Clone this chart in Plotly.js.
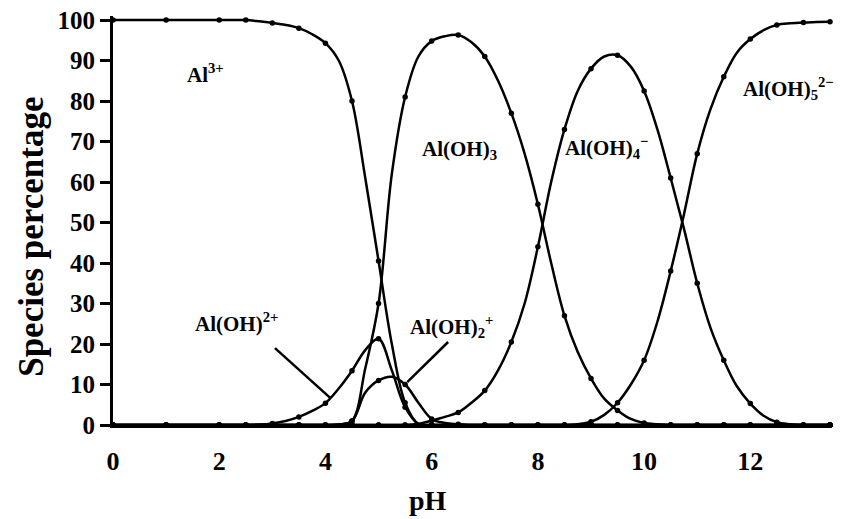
<!DOCTYPE html>
<html>
<head>
<meta charset="utf-8">
<script src="https://cdn.plot.ly/plotly-3.0.1.min.js"></script>
<style>html,body{margin:0;padding:0;background:#fff;}#chart{width:843px;height:519px;}</style>
</head>
<body>
<div id="chart"></div>
<script>
// pH grid (x values)
const pH = [0,0.25,0.5,0.75,1,1.25,1.5,1.75,2,2.25,2.5,2.75,3,3.25,3.5,3.75,4,4.25,4.5,4.75,5,5.25,5.5,5.75,6,6.25,6.5,6.75,7,7.25,7.5,7.75,8,8.25,8.5,8.75,9,9.25,9.5,9.75,10,10.25,10.5,10.75,11,11.25,11.5,11.75,12,12.25,12.5,12.75,13,13.25,13.5];

// Species percentages
const al3 = [100,100,100,100,100,100,100,100,100,100,100,99.7,99.3,98.8,98,96.5,94.3,90,80,61,40.5,20,5.5,0.2,0,0,0,0,0,0,0,0,0,0,0,0,0,0,0,0,0,0,0,0,0,0,0,0,0,0,0,0,0,0,0];
const alOH = [0,0,0,0,0,0,0,0,0,0,0,0.1,0.4,1,2,3.5,5.4,9,13.4,18.5,21.3,13.5,4.4,0.3,0,0,0,0,0,0,0,0,0,0,0,0,0,0,0,0,0,0,0,0,0,0,0,0,0,0,0,0,0,0,0];
const alOH2 = [0,0,0,0,0,0,0,0,0,0,0,0,0,0,0,0,0,0.1,1,8,11,11.9,10,5.5,1.5,0.5,0.2,0,0,0,0,0,0,0,0,0,0,0,0,0,0,0,0,0,0,0,0,0,0,0,0,0,0,0,0];
const alOH3 = [0,0,0,0,0,0,0,0,0,0,0,0,0,0,0,0,0,0.1,1,14,30,62,81,91,94.8,96,96.3,94.5,91,85,77,67,54.5,40,27,18,11.5,6.5,3.6,1.5,0.5,0.2,0,0,0,0,0,0,0,0,0,0,0,0,0];
const alOH4 = [0,0,0,0,0,0,0,0,0,0,0,0,0,0,0,0,0,0,0,0,0,0,0,0.3,1.1,2,3.1,5.5,8.5,13.5,20.5,30,44,60,73,82.5,88,91,91.3,88.5,82.5,73,61,48.5,35,24,16,9.5,5.3,2.3,0.7,0.2,0,0,0];
const alOH5 = [0,0,0,0,0,0,0,0,0,0,0,0,0,0,0,0,0,0,0,0,0,0,0,0,0,0,0,0,0,0,0,0,0,0,0,0.2,0.8,2.5,5.5,10,16,25.5,38,52,67,78,86,92,95.3,97.5,98.8,99.2,99.4,99.5,99.6];

const xTicks = [0,2,4,6,8,10,12];
const yTicks = [0,10,20,30,40,50,60,70,80,90,100];

const seriesList = [al3, alOH, alOH2, alOH3, alOH4, alOH5];
const names = ['Al3+','Al(OH)2+','Al(OH)2+ ','Al(OH)3','Al(OH)4-','Al(OH)5 2-'];

const markSize = pH.map(p => ((p * 2) % 1 === 0 && (p >= 2 || p % 1 === 0)) ? 5.5 : 0);

const traces = seriesList.map((ys, i) => ({
  x: pH, y: ys, name: names[i], type: 'scatter', mode: 'lines+markers',
  line: {color: '#000', width: 2.5, shape: 'spline', smoothing: 1},
  marker: {color: '#000', size: markSize, symbol: 'circle', opacity: 1, line: {color: '#000', width: 0}},
  cliponaxis: false, hoverinfo: 'skip'
}));

const serif = 'Liberation Serif, Times New Roman, serif';
const lab = (text, x, y) => ({text, x, y, xref: 'x', yref: 'y', showarrow: false,
  xanchor: 'center', yanchor: 'middle', font: {family: serif, size: 21, color: '#000', weight: 'bold'}});

const layout = {
  width: 843, height: 519,
  margin: {l: 113, r: 13, t: 16, b: 94},
  paper_bgcolor: '#fff', plot_bgcolor: '#fff',
  showlegend: false,
  xaxis: {
    range: [0, 13.5], tickmode: 'array', tickvals: xTicks,
    showgrid: false, zeroline: false, showline: true, linecolor: '#000', linewidth: 3,
    ticks: 'outside', ticklen: 11, tickcolor: 'rgba(0,0,0,0)',
    tickfont: {family: serif, size: 26, color: '#000', weight: 'bold'}
  },
  yaxis: {
    range: [0, 101], tickmode: 'array', tickvals: yTicks,
    showgrid: false, zeroline: false, showline: true, linecolor: '#000', linewidth: 3,
    ticks: 'outside', ticklen: 10, tickwidth: 3, tickcolor: '#000',
    tickfont: {family: serif, size: 25, color: '#000', weight: 'bold'}
  },
  annotations: [
    {text: 'Species percentage', xref: 'paper', yref: 'paper', x: -0.113, y: 0.46,
     textangle: -90, showarrow: false, xanchor: 'center', yanchor: 'middle',
     font: {family: serif, size: 35, color: '#000', weight: 'bold'}},
    {text: 'pH', xref: 'paper', yref: 'paper', x: 0.439, y: -0.185,
     showarrow: false, xanchor: 'center', yanchor: 'middle',
     font: {family: serif, size: 28, color: '#000', weight: 'bold'}},
    lab('Al<sup>3+</sup>', 1.75, 86.7),
    lab('Al(OH)<sub>3</sub>', 6.53, 67.9),
    lab('Al(OH)<sub>4</sub><sup>\u2212</sup>', 9.3, 68.6),
    lab('Al(OH)<sub>5</sub><sup>2\u2212</sup>', 12.71, 83.2),
    lab('Al(OH)<sup>2+</sup>', 2.32, 25.4),
    lab('Al(OH)<sub>2</sub><sup>+</sup>', 6.38, 24.4)
  ],
  shapes: [
    {type: 'line', xref: 'x', yref: 'y', x0: 3.05, y0: 19, x1: 4.09, y1: 6.7, line: {color: '#000', width: 2.5}},
    {type: 'line', xref: 'x', yref: 'y', x0: 6.31, y0: 20.5, x1: 5.54, y1: 10.6, line: {color: '#000', width: 2.5}}
  ]
};

Plotly.newPlot('chart', traces, layout, {staticPlot: true, displayModeBar: false});
</script>
</body>
</html>
